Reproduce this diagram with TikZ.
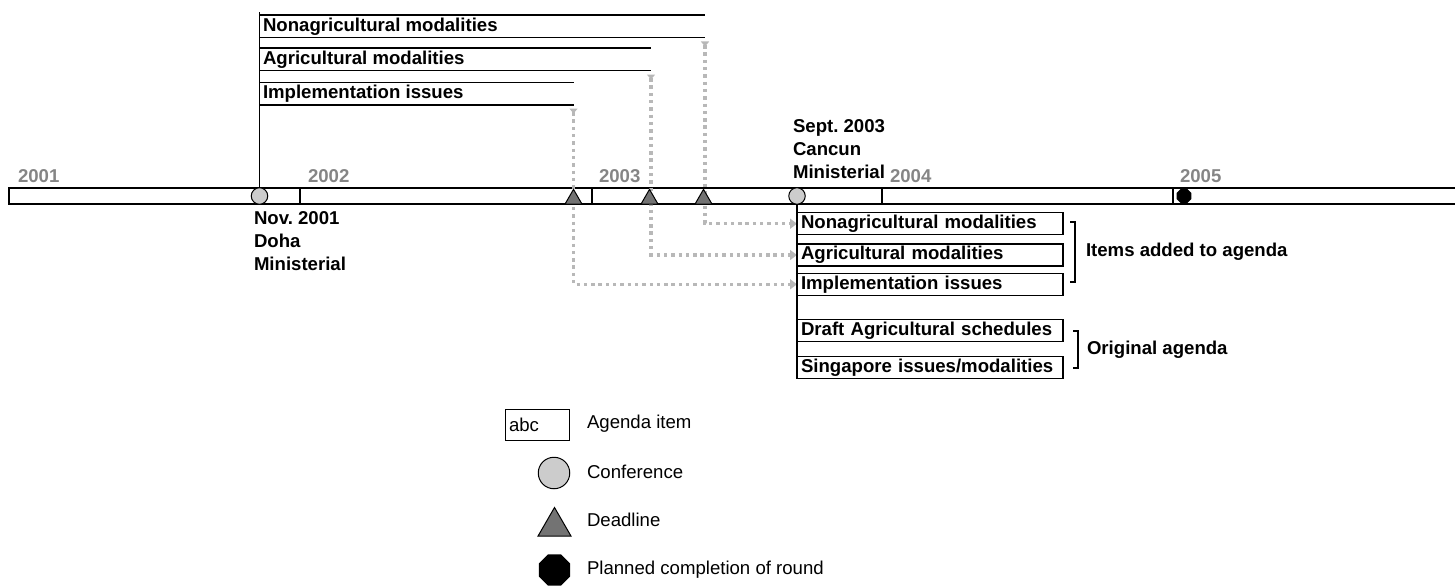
\documentclass[tikz,border=0pt]{standalone}
\usepackage{fontspec}
\setmainfont{Liberation Sans}
\usepackage{xcolor}
\usetikzlibrary{arrows.meta, shapes.geometric, positioning, calc}
\definecolor{yeargray}{gray}{0.52}
\definecolor{confgray}{gray}{0.8}
\definecolor{deadgray}{gray}{0.45}
\definecolor{linkgray}{gray}{0.72}
\newcommand{\lblfont}{\fontsize{18.6}{23}\selectfont}
\frenchspacing
\tikzset{
  x=1pt, y=-1pt,
  every node/.style={font=\lblfont, inner sep=0pt, outer sep=0pt},
  bar/.style={line width=1.3pt, black},
  vline/.style={line width=1.3pt, black},
  year/.style={anchor=base west, font=\lblfont\bfseries, text=yeargray},
  toplabel/.style={anchor=west, font=\lblfont\bfseries},
  event/.style={anchor=north west, align=left, font=\lblfont\bfseries},
  conf/.style={draw, circle, fill=confgray, line width=1pt, minimum size=16.5pt},
  deadline/.style={draw, regular polygon, regular polygon sides=3, fill=deadgray,
    line width=1pt, minimum size=19.5pt, anchor=south},
  planned/.style={regular polygon, regular polygon sides=8, fill=black, minimum size=16pt},
  item/.style={draw, line width=1.3pt, fill=white, anchor=north west, align=left,
    text width=258pt, inner xsep=4pt, minimum height=22pt, font=\lblfont\bfseries},
  linkpath/.style={draw=linkgray, line width=3.5pt, dash pattern=on 3.4pt off 3.9pt,
    {Triangle[reversed, length=5pt, width=8pt]}-{Triangle[length=7pt, width=10pt]}},
  brace/.style={line width=2.2pt},
  legend/.style={anchor=west}
}

\begin{document}
\begin{tikzpicture}
  \useasboundingbox (0,0) rectangle (1455,586);

  % time line
  \draw[bar] (1460,188) -- (9,188) -- (9,204) -- (1460,204);
  \foreach \xx in {300,592,882,1173} \draw[bar] (\xx,188) -- (\xx,204);
  \node[year] (y2001) at (18,182) {2001};
  \node[year] (y2002) at (308,182) {2002};
  \node[year] (y2003) at (599,182) {2003};
  \node[year] (y2005) at (1180,182) {2005};

  % issues opened at Doha
  \node[toplabel] (topNonag) at (263,26.5) {Nonagricultural modalities};
  \node[toplabel] (topAg) at (263,59.5) {Agricultural modalities};
  \node[toplabel] (topImpl) at (263,94) {Implementation issues};
  \draw[vline] (259.5,15) -- (705,15) (259.5,37.5) -- (705,37.5);
  \draw[vline] (259.5,48) -- (651,48) (259.5,70.5) -- (651,70.5);
  \draw[vline] (259.5,82.5) -- (574,82.5) (259.5,105) -- (574,105);
  \coordinate (nonagTop) at (705,41.5);
  \coordinate (agTop) at (651,74.5);
  \coordinate (implTop) at (573.5,108.5);

  % agenda at Cancun
  \node[item] (nonag) at (797,212.7) {Nonagricultural modalities};
  \node[item] (ag) at (797,244) {Agricultural modalities};
  \node[item] (impl) at (797,273.3) {Implementation issues};
  \node[item] (draft) at (797,319.5) {Draft Agricultural schedules};
  \node[item] (singapore) at (797,356.3) {Singapore issues/modalities};

  % deadlines carried forward
  \draw[linkpath] (nonagTop) |- (nonag.west);
  \draw[linkpath] (agTop) |- (ag.west);
  \draw[linkpath] (implTop) |- (impl.west);

  % conferences and deadlines
  \node[conf] (doha) at (259.5,196) {};
  \node[conf] (cancun) at (797,196) {};
  \node[deadline] (dlImpl) at (573.5,204) {};
  \node[deadline] (dlAg) at (649.5,204) {};
  \node[deadline] (dlNonag) at (703.5,204) {};
  \node[planned] (round) at (1184,196) {};
  \node[year] (y2004) at (890,182) {2004};

  \coordinate (topEdge) at (0,12.5);
  \draw[vline] (doha.north) -- (doha.north |- topEdge);
  \draw[vline] (cancun.south) -- (cancun.south |- singapore.south);

  \node[event] (dohaLbl) at (254,212) {Nov. 2001\\Doha\\Ministerial};
  \node[event] (cancunLbl) at (793,120) {Sept. 2003\\Cancun\\Ministerial};

  % brackets
  \draw[brace] (1070,221.7) -- (1075,221.7) -- (1075,282.3) -- (1070,282.3);
  \node[toplabel] (added) at (1086,252) {Items added to agenda};
  \draw[brace] (1073,330.7) -- (1078,330.7) -- (1078,368) -- (1073,368);
  \node[toplabel] (orig) at (1087,350) {Original agenda};

  % legend
  \node[draw, line width=1pt, minimum width=64pt, minimum height=31pt, text width=56pt,
    inner xsep=4pt, align=left] (keyItem) at (537,425) {abc};
  \node[legend] (keyItemLbl) at (587,424) {Agenda item};
  \node[conf, minimum size=31.5pt] (keyConf) at (554,473) {};
  \node[legend] (keyConfLbl) at (587,472) {Conference};
  \node[deadline, minimum size=38pt] (keyDead) at (554.5,536) {};
  \node[legend] (keyDeadLbl) at (587,520) {Deadline};
  \node[planned, minimum size=34pt] (keyPlan) at (554.5,570) {};
  \node[legend] (keyPlanLbl) at (587,570) {Planned completion of round};
\end{tikzpicture}
\end{document}
